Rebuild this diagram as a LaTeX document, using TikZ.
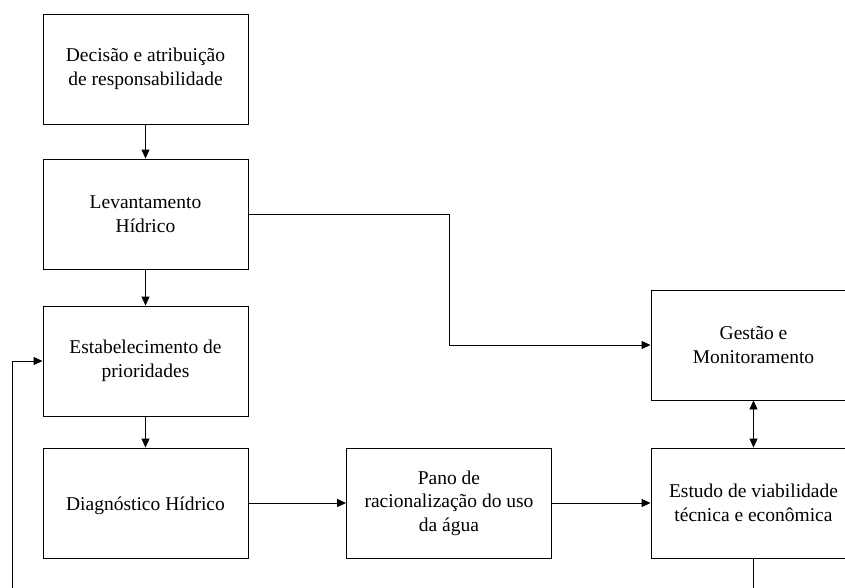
\documentclass[tikz,border=0pt]{standalone}
\usepackage{fontspec}
\setmainfont{Liberation Serif}
\usetikzlibrary{arrows.meta}
\begin{document}
\begin{tikzpicture}[x=1pt,y=-1pt,
  box/.style={draw, line width=0.9pt, rectangle, minimum width=205pt, minimum height=110pt,
    align=center, inner sep=2pt, font=\fontsize{19.5}{23.5}\selectfont,
    execute at begin node={\rule{0pt}{20pt}}},
  conn/.style={line width=0.9pt, -{Triangle[length=9pt,width=8pt]}},
  plain/.style={line width=0.9pt}]
\useasboundingbox (0,0) rectangle (845,587);
\clip (0,0) rectangle (845,587);
\fill[white] (0,0) rectangle (845,587);
\node[box] (dec) at (145.5,69) {Decisão e atribuição\\de responsabilidade};
\node[box] (lev) at (145.5,214) {Levantamento\\Hídrico};
\node[box] (est) at (145.5,361) {Estabelecimento de\\prioridades};
\node[box] (dia) at (145.5,503) {Diagnóstico Hídrico};
\node[box] (pan) at (449,503) {Pano de\\racionalização do uso\\da água};
\node[box] (ges) at (753.5,345) {Gestão e\\Monitoramento};
\node[box] (viab) at (753.5,503) {Estudo de viabilidade\\técnica e econômica};
\coordinate (loopstart) at (12.7,600);
\coordinate (bottomend) at (753.5,600);
\draw[conn] (dec) -- (lev);
\draw[conn] (lev) -- (est);
\draw[conn] (est) -- (dia);
\draw[conn] (dia) -- (pan);
\draw[conn] (pan) -- (viab);
\draw[conn] (lev.east) -| (pan.center |- lev.east) |- (ges.west);
\draw[conn] (loopstart) |- (est.west);
\draw[line width=0.9pt, {Triangle[length=9pt,width=8pt]}-{Triangle[length=9pt,width=8pt]}] (ges) -- (viab);
\draw[plain] (viab) -- (bottomend);
\end{tikzpicture}
\end{document}
